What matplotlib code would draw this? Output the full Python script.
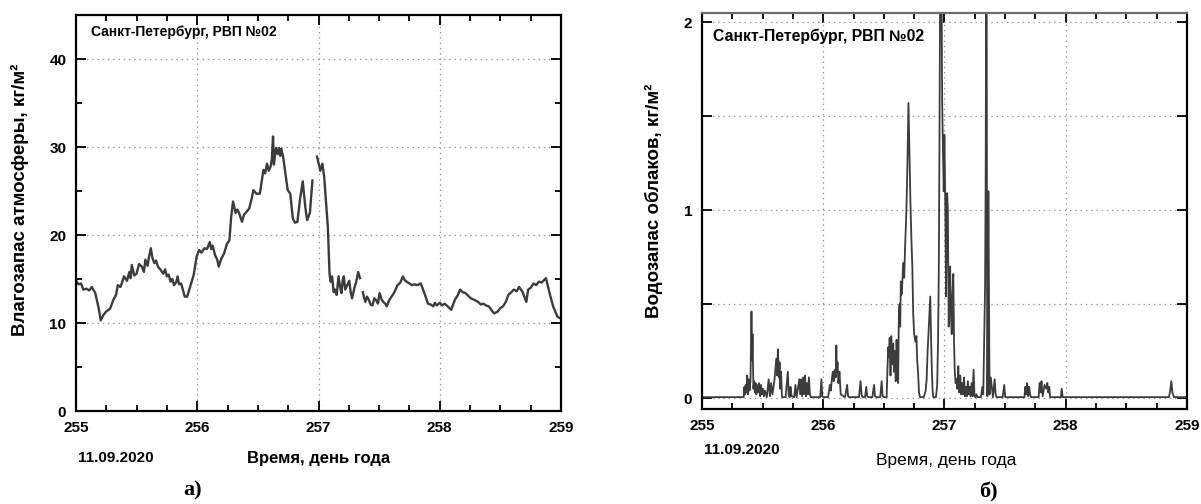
import numpy as np
import matplotlib.pyplot as plt
from matplotlib.ticker import MultipleLocator, FuncFormatter

plt.rcParams['font.family'] = ['Liberation Sans', 'DejaVu Sans']

# panel a) - water vapour, day of year
vapor_day = [255.000, 255.020, 255.041, 255.060, 255.086, 255.110, 255.130, 255.159,
             255.185, 255.204, 255.225, 255.248, 255.280, 255.307, 255.330, 255.345,
             255.366, 255.380, 255.395, 255.420, 255.440, 255.450, 255.460, 255.480,
             255.499, 255.520, 255.543, 255.560, 255.572, 255.590, 255.602, 255.617,
             255.630, 255.646, 255.660, 255.676, 255.700, 255.720, 255.735, 255.749,
             255.765, 255.779, 255.795, 255.808, 255.825, 255.838, 255.850, 255.867,
             255.897, 255.917, 255.941, 255.971, 255.994, 256.015, 256.035, 256.059,
             256.080, 256.103, 256.115, 256.127, 256.147, 256.165, 256.177, 256.198,
             256.221, 256.245, 256.265, 256.280, 256.295, 256.316, 256.330, 256.345,
             256.369, 256.385, 256.398, 256.428, 256.450, 256.463, 256.487, 256.516,
             256.546, 256.560, 256.575, 256.590, 256.605, 256.615, 256.625, 256.632,
             256.640, 256.650, 256.664, 256.675, 256.685, 256.693, 256.708, 256.723,
             256.746, 256.767, 256.788, 256.805, 256.826, 256.847, 256.870, 256.891,
             256.906, 256.929, 256.950, 256.970,
             256.988, 257.003, 257.015, 257.032, 257.047, 257.077, 257.091, 257.100,
             257.112, 257.125, 257.136, 257.150, 257.165, 257.177, 257.189, 257.200,
             257.209, 257.220, 257.230, 257.254, 257.265, 257.277, 257.298, 257.310,
             257.327, 257.342, 257.354,
             257.366, 257.376, 257.386, 257.400, 257.416, 257.430, 257.445, 257.460,
             257.475, 257.490, 257.504, 257.520, 257.534, 257.550, 257.563, 257.580,
             257.593, 257.622, 257.652, 257.675, 257.696, 257.710, 257.726, 257.750,
             257.770, 257.790, 257.814, 257.844, 257.873, 257.903, 257.925, 257.947,
             257.960, 257.976, 258.000, 258.021, 258.040, 258.065, 258.094, 258.124,
             258.150, 258.168, 258.190, 258.212, 258.235, 258.257, 258.290, 258.316,
             258.340, 258.360, 258.380, 258.404, 258.430, 258.448, 258.478, 258.500,
             258.522, 258.545, 258.566, 258.590, 258.611, 258.635, 258.655, 258.684,
             258.714, 258.729, 258.750, 258.773, 258.795, 258.817, 258.840, 258.861,
             258.876, 258.906, 258.935, 258.971, 259.000]
vapor_val = [14.8, 14.4, 14.5, 13.8, 13.9, 13.7, 14.1, 13.4,
             11.8, 10.3, 10.9, 11.3, 11.6, 12.6, 13.2, 14.3,
             14.1, 14.6, 15.3, 14.8, 15.8, 15.1, 16.6, 15.4,
             15.6, 16.7, 16.4, 15.8, 17.2, 16.5, 17.5, 18.5,
             17.4, 16.8, 17.1, 16.4, 16.0, 15.6, 16.1, 15.3,
             15.5, 14.7, 15.0, 14.3, 14.6, 15.3, 14.4, 14.5,
             13.0, 13.0, 14.1, 15.5, 17.5, 18.3, 18.0, 18.5,
             18.4, 19.2, 18.4, 18.8, 17.7, 17.2, 16.4, 17.3,
             17.9, 19.0, 19.4, 22.1, 23.8, 22.5, 22.9, 22.5,
             21.5, 22.3, 22.5, 23.0, 24.2, 25.1, 24.7, 24.7,
             27.4, 27.0, 28.1, 27.3, 27.8, 28.6, 31.2, 28.0,
             28.9, 29.9, 29.2, 29.9, 29.0, 29.8, 28.9, 27.4,
             25.1, 24.7, 21.9, 21.4, 21.5, 24.0, 26.1, 23.2,
             21.7, 22.5, 26.2, np.nan,
             28.9, 28.0, 27.3, 28.1, 26.6, 20.9, 15.6, 14.7,
             15.3, 13.5, 13.8, 13.2, 15.3, 14.2, 13.4, 14.9,
             15.3, 13.8, 14.1, 14.8, 13.5, 12.8, 14.1, 14.6,
             15.8, 15.1, np.nan,
             13.5, 12.9, 12.4, 13.0, 12.6, 12.1, 12.0, 12.8,
             12.6, 12.2, 13.4, 12.7, 12.4, 12.2, 11.9, 12.5,
             12.8, 13.4, 14.3, 14.6, 15.3, 14.9, 14.7, 14.5,
             14.3, 14.4, 14.3, 14.5, 13.4, 12.2, 12.1, 11.9,
             12.3, 12.0, 12.3, 12.0, 12.2, 11.9, 11.5, 12.6,
             13.2, 13.8, 13.5, 13.4, 13.1, 12.8, 12.6, 12.4,
             12.1, 12.2, 12.0, 11.9, 11.4, 11.1, 11.3, 11.7,
             11.9, 12.4, 13.2, 13.5, 13.8, 13.6, 14.1, 13.5,
             12.4, 13.8, 14.0, 14.5, 14.3, 14.7, 14.6, 14.9,
             15.1, 13.4, 11.9, 10.7, 10.5]

# panel b) - cloud liquid water
cloud_day = [255.000, 255.130, 255.344, 255.350, 255.354, 255.360, 255.367, 255.373,
             255.379, 255.386, 255.392, 255.400, 255.408, 255.413, 255.417, 255.424,
             255.430, 255.436, 255.442, 255.448, 255.455, 255.462, 255.471, 255.480,
             255.487, 255.494, 255.502, 255.510, 255.518, 255.535, 255.550, 255.560,
             255.570, 255.581, 255.597, 255.613, 255.620, 255.626, 255.635, 255.640,
             255.645, 255.652, 255.660, 255.690, 255.708, 255.716, 255.724, 255.730,
             255.739, 255.760, 255.771, 255.780, 255.803, 255.810, 255.818, 255.826,
             255.834, 255.842, 255.850, 255.858, 255.866, 255.874, 255.882, 255.890,
             255.897, 255.976, 255.985, 255.992, 256.000, 256.040, 256.055, 256.063,
             256.071, 256.079, 256.087, 256.095, 256.103, 256.108, 256.112, 256.118,
             256.125, 256.134, 256.144, 256.180, 256.197, 256.205, 256.213, 256.295,
             256.308, 256.316, 256.324, 256.345, 256.355, 256.363, 256.371, 256.405,
             256.419, 256.427, 256.434, 256.470, 256.482, 256.490, 256.498, 256.515,
             256.523, 256.530, 256.536, 256.542, 256.548, 256.555, 256.561, 256.569,
             256.577, 256.585, 256.592, 256.598, 256.605, 256.612, 256.618, 256.624,
             256.630, 256.635, 256.640, 256.646, 256.652, 256.657, 256.662, 256.668,
             256.675, 256.682, 256.688, 256.696, 256.703, 256.711, 256.719, 256.727,
             256.735, 256.742, 256.750, 256.760, 256.769, 256.775, 256.782, 256.790,
             256.798, 256.829, 256.845, 256.853, 256.861, 256.872, 256.883, 256.890,
             256.896, 256.902, 256.908, 256.930, 256.940, 256.947, 256.953, 256.959,
             256.965, 256.970, 256.976, 256.981, 256.988, 256.994, 256.999, 257.003,
             257.008, 257.013, 257.018, 257.022, 257.028, 257.035, 257.041, 257.047,
             257.053, 257.060, 257.066, 257.073, 257.079, 257.085, 257.092, 257.098,
             257.106, 257.114, 257.122, 257.130, 257.138, 257.145, 257.153, 257.161,
             257.169, 257.177, 257.185, 257.193, 257.201, 257.209, 257.216, 257.224,
             257.232, 257.240, 257.248, 257.256, 257.264, 257.272, 257.300, 257.313,
             257.320, 257.325, 257.330, 257.335, 257.340, 257.344, 257.348, 257.351,
             257.354, 257.357, 257.362, 257.367, 257.372, 257.376, 257.382, 257.400,
             257.414, 257.422, 257.430, 257.480, 257.493, 257.501, 257.509, 257.525,
             257.660, 257.667, 257.675, 257.682, 257.690, 257.698, 257.706, 257.714,
             257.777, 257.785, 257.793, 257.800, 257.810, 257.825, 257.840, 257.848,
             257.856, 257.864, 257.872, 257.960, 257.967, 257.975, 257.983, 257.998,
             258.852, 258.862, 258.871, 258.880, 258.893, 259.000]
cloud_val = [0.005, 0.005, 0.005, 0.06, 0.02, 0.07, 0.03, 0.12,
             0.02, 0.10, 0.04, 0.09, 0.46, 0.20, 0.34, 0.05,
             0.09, 0.03, 0.08, 0.02, 0.07, 0.03, 0.08, 0.01,
             0.07, 0.02, 0.05, 0.01, 0.04, 0.005, 0.10, 0.01,
             0.08, 0.02, 0.09, 0.21, 0.12, 0.26, 0.11, 0.19,
             0.05, 0.14, 0.005, 0.005, 0.14, 0.01, 0.005, 0.06,
             0.01, 0.005, 0.07, 0.005, 0.10, 0.02, 0.10, 0.01,
             0.11, 0.02, 0.12, 0.01, 0.08, 0.02, 0.11, 0.02,
             0.005, 0.005, 0.10, 0.01, 0.005, 0.005, 0.07, 0.04,
             0.10, 0.14, 0.09, 0.15, 0.11, 0.28, 0.14, 0.19,
             0.08, 0.14, 0.02, 0.005, 0.07, 0.01, 0.005, 0.005,
             0.09, 0.02, 0.005, 0.005, 0.06, 0.01, 0.005, 0.005,
             0.07, 0.01, 0.005, 0.005, 0.09, 0.01, 0.005, 0.005,
             0.005, 0.16, 0.27, 0.22, 0.32, 0.12, 0.33, 0.18,
             0.29, 0.14, 0.25, 0.09, 0.31, 0.17, 0.08, 0.46,
             0.50, 0.38, 0.62, 0.55, 0.61, 0.68, 0.72, 0.64,
             0.80, 0.92, 1.05, 1.30, 1.57, 1.30, 1.05, 0.85,
             0.70, 0.45, 0.34, 0.30, 0.33, 0.20, 0.14, 0.03,
             0.005, 0.005, 0.04, 0.10, 0.25, 0.40, 0.54, 0.30,
             0.15, 0.04, 0.005, 0.005, 0.07, 0.30, 0.66, 1.40,
             2.30, 2.40, 2.20, 1.58, 1.30, 1.10, 1.40, 1.23,
             0.95, 0.54, 0.90, 1.09, 1.00, 0.38, 0.60, 0.70,
             0.45, 0.34, 0.55, 0.66, 0.30, 0.14, 0.08, 0.10,
             0.05, 0.17, 0.03, 0.12, 0.02, 0.08, 0.02, 0.11,
             0.01, 0.06, 0.01, 0.09, 0.02, 0.06, 0.01, 0.08,
             0.01, 0.15, 0.01, 0.005, 0.02, 0.005, 0.005, 0.06,
             0.02, 0.20, 0.40, 0.60, 1.20, 2.30, 2.30, 0.70,
             0.01, 0.30, 1.10, 0.60, 0.02, 0.05, 0.11, 0.005,
             0.10, 0.02, 0.005, 0.005, 0.07, 0.005, 0.005, 0.005,
             0.005, 0.06, 0.02, 0.08, 0.01, 0.06, 0.02, 0.005,
             0.005, 0.08, 0.03, 0.09, 0.01, 0.07, 0.05, 0.08,
             0.03, 0.06, 0.005, 0.005, 0.05, 0.005, 0.005, 0.005,
             0.005, 0.04, 0.09, 0.03, 0.005, 0.005]

x_ticks = [255, 256, 257, 258, 259]
station = "Санкт-Петербург, РВП №02"
date_txt = "11.09.2020"

line_col = "#3c3c3c"
grid_col = "#9a9a9a"

fig = plt.figure(figsize=(12.01, 5.04), dpi=100, facecolor="white")


def style_axes(ax):
    ax.set_xlim(255, 259)
    ax.set_xticks(x_ticks)
    ax.xaxis.set_minor_locator(MultipleLocator(0.25))
    ax.tick_params(which="both", direction="in", top=True, right=True, width=1.3,
                   colors="black")
    ax.tick_params(which="major", length=7, labelsize=11, pad=7)
    ax.tick_params(which="minor", length=4)
    ax.grid(True, which="major", ls=(0, (1.2, 3.0)), color=grid_col, lw=0.9)
    for lab in ax.get_xticklabels() + ax.get_yticklabels():
        lab.set_fontweight("bold")
    for s in ax.spines.values():
        s.set_linewidth(1.6)


# ---- panel a)
ax1 = fig.add_axes((0.0633, 0.1845, 0.4038, 0.7857))
ax1.plot(vapor_day, vapor_val, color=line_col, lw=1.7)
ax1.set_ylim(0, 45)
ax1.yaxis.set_major_locator(MultipleLocator(10))
ax1.yaxis.set_minor_locator(MultipleLocator(5))
style_axes(ax1)
ax1.text(0.03, 0.957, station, transform=ax1.transAxes, fontsize=10, fontweight="bold",
         va="center", ha="left")
ax1.set_ylabel("Влагозапас атмосферы, кг/м²", fontsize=13.5, fontweight="bold")
ax1.yaxis.set_label_coords(-0.097, 0.534)

fig.text(116 / 1201, 1 - 458 / 504, date_txt, fontsize=11, fontweight="bold",
         ha="center", va="center")
fig.text(319 / 1201, 1 - 459 / 504, "Время, день года", fontsize=12, fontweight="bold",
         ha="center", va="center")
fig.text(193 / 1201, 1 - 490 / 504, "а)", fontsize=16, fontweight="bold",
         family="Liberation Serif", ha="center", va="center")

# ---- panel b)
ax2 = fig.add_axes((0.5845, 0.1885, 0.4038, 0.7857))
ax2.plot(cloud_day, cloud_val, color=line_col, lw=1.3)
ax2.set_ylim(-0.058, 2.048)
ax2.yaxis.set_major_locator(MultipleLocator(0.5))
ax2.yaxis.set_major_formatter(FuncFormatter(lambda v, p: "%d" % v if abs(v - round(v)) < 1e-6 else ""))
style_axes(ax2)
ax2.spines["top"].set_color("#6e6e6e")
ax2.text(0.022, 0.94, station, transform=ax2.transAxes, fontsize=11.3, fontweight="bold",
         va="center", ha="left")
ax2.set_ylabel("Водозапас облаков, кг/м²", fontsize=13.5, fontweight="bold")
ax2.yaxis.set_label_coords(-0.080, 0.526)

fig.text(742 / 1201, 1 - 450 / 504, date_txt, fontsize=11, fontweight="bold",
         ha="center", va="center")
fig.text(946 / 1201, 1 - 460 / 504, "Время, день года", fontsize=12.5,
         ha="center", va="center")
fig.text(988 / 1201, 1 - 492 / 504, "б)", fontsize=16, fontweight="bold",
         family="Liberation Serif", ha="center", va="center")

fig.savefig("out.png", dpi=100, facecolor="white")
